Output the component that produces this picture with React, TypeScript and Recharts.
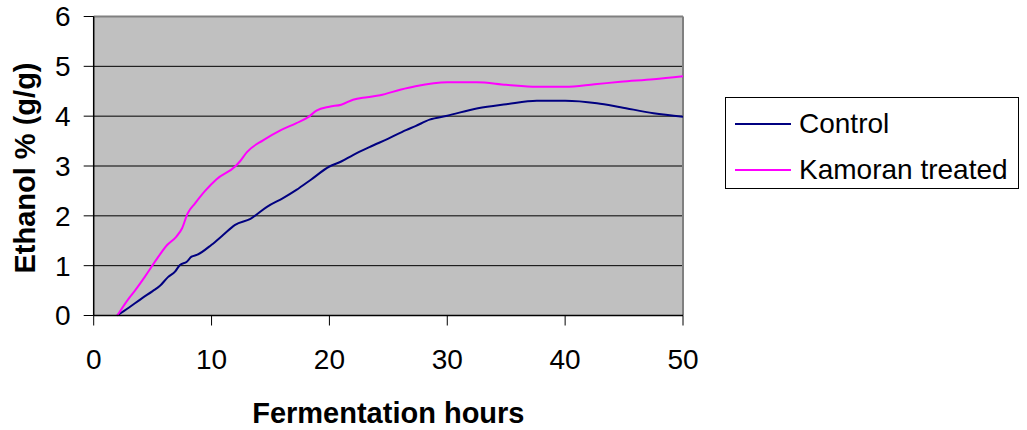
import { LineChart, Line, XAxis, YAxis, CartesianGrid, ReferenceLine, Legend } from 'recharts'

/* ── Data ── */
const controlHours = [2, 3, 4, 5, 5.6, 6.3, 6.9, 7.3, 7.9, 8.3, 8.8, 10, 11, 12, 13.3, 14.7, 16.1, 17.2, 18.4, 20, 21, 22, 23.4, 25, 26.5, 27.3, 28.5, 30, 32.6, 35, 37.6, 40, 42.7, 44.7, 47.5, 50]
const controlEthanol = [0, 0.16, 0.33, 0.49, 0.59, 0.77, 0.88, 1.01, 1.08, 1.18, 1.22, 1.42, 1.62, 1.82, 1.94, 2.18, 2.36, 2.52, 2.72, 2.99, 3.09, 3.22, 3.38, 3.55, 3.72, 3.8, 3.93, 4.01, 4.16, 4.24, 4.31, 4.31, 4.26, 4.18, 4.06, 3.99]

const kamoranHours = [2, 3, 3.5, 4.35, 5.2, 6.25, 7, 7.5, 7.95, 8.6, 9.45, 10.4, 12, 12.4, 13, 14.4, 15.8, 17.2, 18.2, 18.9, 20, 21, 22, 23.2, 24.3, 26, 27.3, 30, 32.5, 35, 37.6, 40, 42.5, 44.7, 47.5, 50]
const kamoranEthanol = [0, 0.35, 0.5, 0.78, 1.08, 1.42, 1.58, 1.75, 2.04, 2.25, 2.5, 2.73, 2.99, 3.09, 3.28, 3.52, 3.71, 3.86, 3.98, 4.11, 4.19, 4.23, 4.33, 4.38, 4.42, 4.53, 4.6, 4.68, 4.68, 4.63, 4.59, 4.59, 4.64, 4.69, 4.74, 4.8]

const xTicks = [0, 10, 20, 30, 40, 50]
const yTicks = [0, 1, 2, 3, 4, 5, 6]

const series = [
  { name: 'Control', color: '#000080', data: controlHours.map((x, i) => ({ x, y: controlEthanol[i] })) },
  { name: 'Kamoran treated', color: '#ff00ff', data: kamoranHours.map((x, i) => ({ x, y: kamoranEthanol[i] })) },
]

const font = '"Liberation Sans", Arial, sans-serif'

function LegendBox() {
  return (
    <div
      style={{
        width: 294,
        height: 92,
        border: '1px solid #000',
        background: '#fff',
        fontFamily: font,
        fontSize: 28,
        color: '#000',
        boxSizing: 'border-box',
        padding: '3px 0 0 9px',
      }}
    >
      {series.map(s => (
        <div key={s.name} style={{ display: 'flex', alignItems: 'center', height: 46 }}>
          <span style={{ display: 'inline-block', width: 56, height: 2, background: s.color, marginRight: 8 }} />
          <span>{s.name}</span>
        </div>
      ))}
    </div>
  )
}

export default function App() {
  return (
    <div style={{ position: 'absolute', left: 0, top: 0, width: 1027, height: 430, background: '#fff' }}>
      <LineChart width={1027} height={430} margin={{ top: 16.5, right: 344, bottom: 0, left: 0 }}>
        <CartesianGrid fill="#c0c0c0" stroke="#000" strokeWidth={1} vertical={false} horizontalValues={yTicks} />
        <XAxis
          type="number"
          dataKey="x"
          domain={[0, 50]}
          ticks={xTicks}
          height={114.5}
          tickSize={10}
          tickMargin={24}
          axisLine={{ stroke: '#000', strokeWidth: 1.5 }}
          tickLine={{ stroke: '#000' }}
          tick={{ fill: '#000', fontSize: 28, fontFamily: font }}
          label={{ value: 'Fermentation hours', position: 'insideBottom', offset: 6.7, fill: '#000', fontSize: 29, fontWeight: 'bold', fontFamily: font }}
        />
        <YAxis
          type="number"
          domain={[0, 6]}
          ticks={yTicks}
          width={93.7}
          tickSize={10}
          tickMargin={13}
          axisLine={{ stroke: '#000', strokeWidth: 1.5 }}
          tickLine={{ stroke: '#000' }}
          tick={{ fill: '#000', fontSize: 28, fontFamily: font }}
          label={{
            content: () => (
              <text
                x={35}
                y={168}
                transform="rotate(-90, 35, 168)"
                textAnchor="middle"
                fill="#000"
                fontSize={29}
                fontWeight="bold"
                fontFamily={font}
              >
                Ethanol % (g/g)
              </text>
            ),
          }}
        />
        <ReferenceLine y={6} stroke="#808080" strokeWidth={2} />
        <ReferenceLine x={50} stroke="#808080" strokeWidth={2} />
        {series.map(s => (
          <Line
            key={s.name}
            data={s.data}
            dataKey="y"
            name={s.name}
            type="monotone"
            stroke={s.color}
            strokeWidth={2}
            dot={false}
            isAnimationActive={false}
          />
        ))}
        <Legend
          layout="horizontal"
          verticalAlign="middle"
          align="center"
          wrapperStyle={{ left: 725, top: 97, width: 294, height: 92 }}
          content={() => <LegendBox />}
        />
      </LineChart>
    </div>
  )
}
